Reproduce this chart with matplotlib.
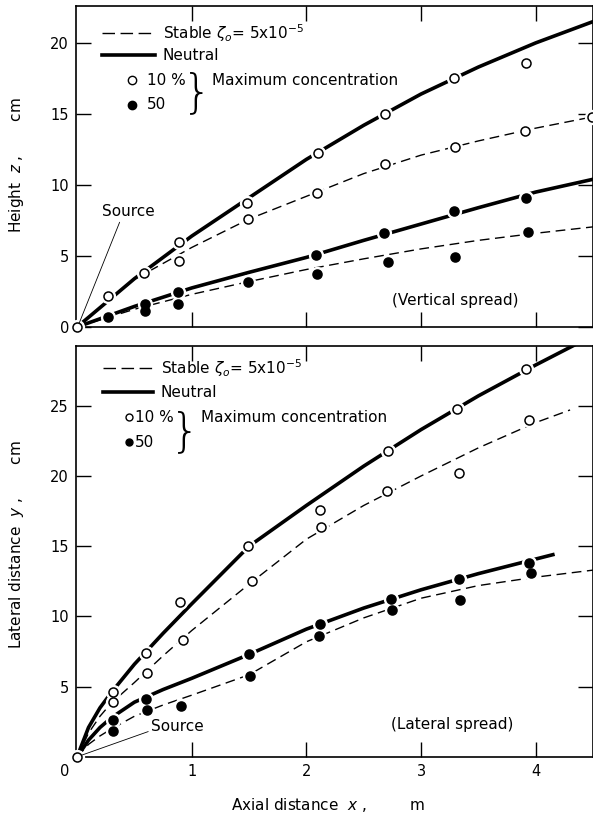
import matplotlib
matplotlib.use("Agg")
import matplotlib.pyplot as plt
from matplotlib.lines import Line2D

# ---- data ----
# top panel (vertical spread), height z in cm vs axial distance x in m
top_neu_open_x = [0, 0.27, 0.58, 0.89, 1.48, 2.10, 2.69, 3.29, 3.92]
top_neu_open_y = [0, 2.2, 3.8, 6.0, 8.7, 12.25, 15.0, 17.5, 18.6]
top_stb_open_x = [0.89, 1.49, 2.09, 2.69, 3.30, 3.91, 4.49]
top_stb_open_y = [4.65, 7.6, 9.45, 11.5, 12.7, 13.8, 14.8]
top_neu_fill_x = [0.59, 0.88, 2.08, 2.68, 3.29, 3.92]
top_neu_fill_y = [1.6, 2.5, 5.1, 6.6, 8.2, 9.1]
top_stb_fill_x = [0.27, 0.59, 0.88, 1.49, 2.09, 2.71, 3.30, 3.93]
top_stb_fill_y = [0.7, 1.1, 1.6, 3.2, 3.7, 4.6, 4.9, 6.7]

top_curve_x = [0, 0.5, 1, 1.5, 2, 2.5, 3, 3.5, 4, 4.5]
top_neu_open_curve = [0, 3.4, 6.4, 9.1, 11.8, 14.2, 16.4, 18.3, 20.0, 21.5]
top_stb_open_curve = [0, 3.35, 5.6, 7.6, 9.2, 10.8, 12.1, 13.1, 14.0, 14.8]
top_neu_fill_curve = [0, 1.45, 2.75, 3.85, 4.9, 6.1, 7.25, 8.4, 9.5, 10.4]
top_stb_fill_curve = [0, 1.25, 2.3, 3.2, 4.05, 4.8, 5.5, 6.1, 6.6, 7.05]

# bottom panel (lateral spread), lateral distance y in cm
bot_neu_open_x = [0, 0.31, 0.60, 0.90, 1.49, 2.12, 2.71, 3.31, 3.92]
bot_neu_open_y = [0, 4.6, 7.4, 11.0, 15.0, 17.6, 21.8, 24.8, 27.6]
bot_stb_open_x = [0.31, 0.61, 0.92, 1.53, 2.13, 2.70, 3.33, 3.94]
bot_stb_open_y = [3.9, 6.0, 8.3, 12.5, 16.4, 18.9, 20.2, 24.0]
bot_neu_fill_x = [0.31, 0.60, 1.50, 2.12, 2.74, 3.33, 3.94]
bot_neu_fill_y = [2.6, 4.1, 7.3, 9.5, 11.25, 12.7, 13.8]
bot_stb_fill_x = [0.31, 0.61, 0.91, 1.51, 2.11, 2.75, 3.34, 3.96]
bot_stb_fill_y = [1.85, 3.35, 3.6, 5.8, 8.6, 10.45, 11.2, 13.1]

bot_curve_x = [0, 0.1, 0.2, 0.3, 0.5, 0.75, 1, 1.5, 2, 2.5, 3, 3.5, 4, 4.5]
bot_neu_open_curve = [0, 2.1, 3.5, 4.6, 6.6, 8.8, 10.9, 15.0, 17.9, 20.7, 23.3, 25.7, 27.9, 30.0]
bot_stb_fill_curve = [0, 0.9, 1.5, 2.0, 2.9, 3.7, 4.4, 5.85, 8.2, 9.9, 11.3, 12.2, 12.8, 13.3]
bot_stb_curve_x = [0, 0.1, 0.2, 0.3, 0.5, 0.75, 1, 1.5, 2, 2.5, 3, 3.5, 4, 4.3]
bot_stb_open_curve = [0, 1.7, 2.9, 3.85, 5.3, 7.2, 9.0, 12.3, 15.5, 17.9, 20.0, 22.0, 23.8, 24.7]
bot_neu_fill_curve_x = [0, 0.1, 0.2, 0.3, 0.5, 0.75, 1, 1.5, 2, 2.5, 3, 3.5, 4.15]
bot_neu_fill_curve = [0, 1.2, 2.1, 2.8, 3.9, 4.8, 5.6, 7.3, 9.1, 10.6, 11.9, 13.05, 14.4]

FS = 11
DASH = (0, (7, 4))


def points(ax, x, y, filled, ms=6.5):
    # white halo first so lines break at the markers
    ax.plot(x, y, 'o', ms=ms + 3.5, color='white', zorder=3, clip_on=False)
    ax.plot(x, y, 'o', ms=ms, mfc='black' if filled else 'white',
            mec='black', mew=1.1, zorder=4, clip_on=False)


def frame(ax, ymax, yticks):
    ax.set_xlim(-0.01, 4.5)
    ax.set_ylim(0, ymax)
    ax.set_xticks([1, 2, 3, 4])
    ax.set_yticks(yticks)
    ax.tick_params(direction='in', length=11, width=1.0, top=True, right=True,
                   labelsize=10.5, pad=5)
    for s in ax.spines.values():
        s.set_linewidth(1.2)


def legend(ax, x0, x1, y_st, y_ne, x_c, y_10, y_50, x_txt, x_br, y_br, ms):
    ax.add_line(Line2D([x0, x1], [y_st, y_st], transform=ax.transAxes,
                       color='black', lw=1.0, ls=(0, (9, 4))))
    ax.add_line(Line2D([x0, x1], [y_ne, y_ne], transform=ax.transAxes,
                       color='black', lw=2.6))
    ax.text(x1 + 0.015, y_st, r'Stable $\zeta_o$= 5x10$^{-5}$', transform=ax.transAxes,
            fontsize=FS, va='center')
    ax.text(x1 + 0.015, y_ne, 'Neutral', transform=ax.transAxes, fontsize=FS, va='center')
    ax.plot([x_c], [y_10], 'o', ms=ms, mfc='white', mec='black', mew=1.0,
            transform=ax.transAxes)
    ax.plot([x_c], [y_50], 'o', ms=ms, mfc='black', mec='black',
            transform=ax.transAxes)
    ax.text(x_txt, y_10, '10 %', transform=ax.transAxes, fontsize=FS, va='center')
    ax.text(x_txt, y_50, '50', transform=ax.transAxes, fontsize=FS, va='center')
    ax.text(x_br, y_br, '}', transform=ax.transAxes, fontsize=34, va='center',
            ha='center', fontweight='light')
    ax.text(x_br + 0.03, y_10, 'Maximum concentration', transform=ax.transAxes,
            fontsize=FS, va='center')


fig = plt.figure(figsize=(5.93, 8.19), dpi=100)
ax1 = fig.add_axes([0.128, 0.6007, 0.872, 0.392])
ax2 = fig.add_axes([0.128, 0.0757, 0.872, 0.5018])

# ---- top: vertical spread ----
frame(ax1, 22.6, [0, 5, 10, 15, 20])
ax1.tick_params(labelbottom=False)
ax1.plot(top_curve_x, top_neu_open_curve, color='black', lw=2.6, zorder=2)
ax1.plot(top_curve_x, top_stb_open_curve, color='black', lw=1.0, ls=DASH, zorder=2)
ax1.plot(top_curve_x, top_neu_fill_curve, color='black', lw=2.6, zorder=2)
ax1.plot(top_curve_x, top_stb_fill_curve, color='black', lw=1.0, ls=DASH, zorder=2)
points(ax1, top_neu_open_x, top_neu_open_y, False)
points(ax1, top_stb_open_x, top_stb_open_y, False)
points(ax1, top_neu_fill_x, top_neu_fill_y, True)
points(ax1, top_stb_fill_x, top_stb_fill_y, True)
ax1.annotate('Source', xy=(0.01, 0.1), xytext=(0.22, 8.1), fontsize=FS, va='center',
             arrowprops=dict(arrowstyle='-', lw=0.6, color='black', shrinkA=0, shrinkB=0,
                             relpos=(0.35, 0)))
ax1.text(3.3, 1.9, '(Vertical spread)', fontsize=FS, ha='center', va='center')
legend(ax1, 0.050, 0.153, 0.916, 0.847, 0.108, 0.769, 0.692, 0.137, 0.234, 0.73, 6)

# ---- bottom: lateral spread ----
frame(ax2, 29.25, [5, 10, 15, 20, 25])
ax2.plot(bot_curve_x, bot_neu_open_curve, color='black', lw=2.6, zorder=2)
ax2.plot(bot_stb_curve_x, bot_stb_open_curve, color='black', lw=1.0, ls=DASH, zorder=2)
ax2.plot(bot_neu_fill_curve_x, bot_neu_fill_curve, color='black', lw=2.6, zorder=2)
ax2.plot(bot_curve_x, bot_stb_fill_curve, color='black', lw=1.0, ls=DASH, zorder=2)
points(ax2, bot_neu_open_x, bot_neu_open_y, False)
points(ax2, bot_stb_open_x, bot_stb_open_y, False)
points(ax2, bot_neu_fill_x, bot_neu_fill_y, True)
points(ax2, bot_stb_fill_x, bot_stb_fill_y, True)
ax2.annotate('Source', xy=(0.03, 0.1), xytext=(0.645, 2.2), fontsize=FS, va='center',
             arrowprops=dict(arrowstyle='-', lw=0.6, color='black', shrinkA=0, shrinkB=0,
                             relpos=(0, 0.2)))
ax2.text(3.27, 2.3, '(Lateral spread)', fontsize=FS, ha='center', va='center')
legend(ax2, 0.052, 0.149, 0.946, 0.888, 0.103, 0.827, 0.766, 0.114, 0.211, 0.79, 5)

fig.text(65 / 593, 1 - 771 / 819, '0', fontsize=10.5, ha='center', va='center')

fig.text(17 / 593, 1 - 165 / 819, r'Height  $z$ ,       cm', rotation=90,
         fontsize=FS, ha='center', va='center')
fig.text(17 / 593, 1 - 545 / 819, r'Lateral distance  $y$ ,       cm', rotation=90,
         fontsize=FS, ha='center', va='center')
fig.text(328 / 593, 1 - 805 / 819, r'Axial distance  $x$ ,         m',
         fontsize=FS, ha='center', va='center')

fig.savefig('out.png', dpi=100)
